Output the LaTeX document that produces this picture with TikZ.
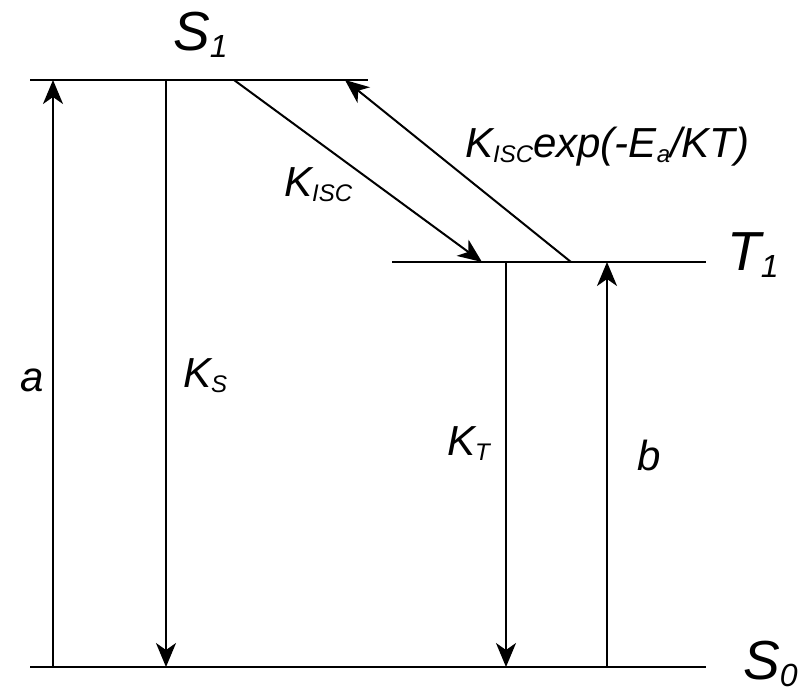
\documentclass[tikz,border=0pt]{standalone}
\usepackage{fontspec}
\setmainfont{Liberation Sans}
\usetikzlibrary{arrows.meta}

% subscripts for rate labels and for state labels
\newcommand\ksub[1]{\raisebox{-5pt}{\fontsize{24}{24}\selectfont #1}}
\newcommand\ssub[1]{\raisebox{-7pt}{\fontsize{32}{32}\selectfont #1}}

\begin{document}
\begin{tikzpicture}[x=1pt, y=-1pt,
  level/.style={line width=2pt},
  trans/.style={line width=2pt, -{Stealth[length=24pt, width=20pt, inset=7pt]}},
  lbl/.style={font=\fontsize{42}{50}\selectfont\itshape, inner sep=0pt, anchor=base west},
  state/.style={font=\fontsize{55}{64}\selectfont\itshape, inner sep=0pt, anchor=base west}
]
  \useasboundingbox (0,0) rectangle (805,691);

  % energy levels
  \coordinate (s1L) at (30,80);
  \coordinate (s1R) at (368,80);
  \coordinate (t1L) at (392,262);
  \coordinate (t1R) at (706,262);
  \coordinate (s0L) at (30,667);
  \coordinate (s0R) at (706,667);
  \draw[level] (s1L) -- (s1R);
  \draw[level] (t1L) -- (t1R);
  \draw[level] (s0L) -- (s0R);

  % transitions
  \coordinate (absA) at (53,667);
  \coordinate (fluS) at (166,80);
  \coordinate (iscTop) at (234,80);
  \coordinate (iscBot) at (482,262);
  \coordinate (rviTop) at (345,80);
  \coordinate (rviBot) at (571,262);
  \coordinate (phoT) at (506,262);
  \coordinate (absB) at (607,667);

  \draw[trans] (absA) -- (absA |- s1L);
  \draw[trans] (fluS) -- (fluS |- s0L);
  \draw[trans] (iscTop) -- (iscBot);
  \draw[trans] (rviBot) -- (rviTop);
  \draw[trans] (phoT) -- (phoT |- s0L);
  \draw[trans] (absB) -- (absB |- t1L);

  % labels
  \node[state] (lS1) at (173,50) {S\ssub{1}};
  \node[state] (lT1) at (727,270) {T\ssub{1}};
  \node[state] (lS0) at (743,679) {S\ssub{0}};
  \node[lbl] (la) at (20,391) {a};
  \node[lbl] (lKS) at (183,387) {K\ksub{S}};
  \node[lbl] (lKisc) at (284,196) {K\ksub{ISC}};
  \node[lbl] (lKrev) at (465,157) {K\ksub{ISC}exp(-E\ksub{a}/KT)};
  \node[lbl] (lKT) at (447,455) {K\ksub{T}};
  \node[lbl] (lb) at (637,470) {b};
\end{tikzpicture}
\end{document}
